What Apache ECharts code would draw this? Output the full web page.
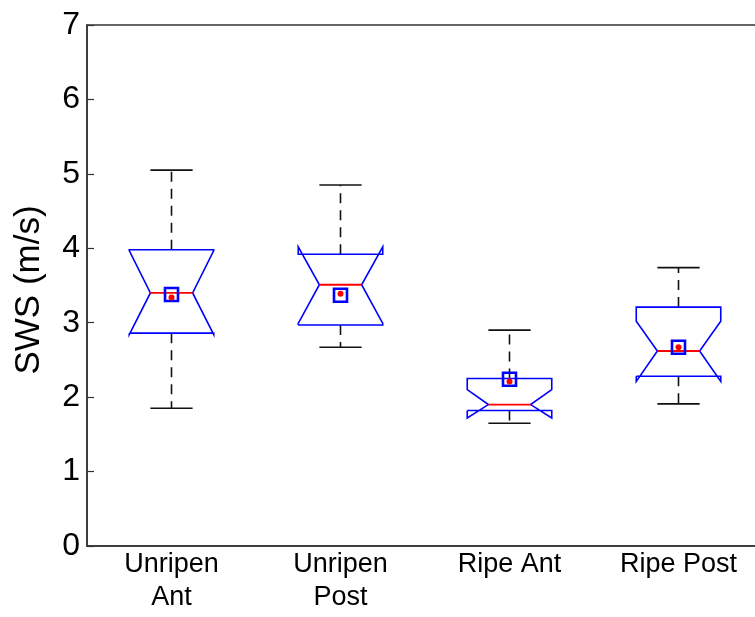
<!DOCTYPE html>
<html>
<head>
<meta charset="utf-8">
<script src="https://cdn.jsdelivr.net/npm/echarts@6/dist/echarts.min.js"></script>
<style>
  html, body { margin: 0; padding: 0; background: #fff; }
  #chart { width: 755px; height: 617px; }
</style>
</head>
<body>
<div id="chart"></div>
<script>
// ---- data ----
const categories = ['Unripen\nAnt', 'Unripen\nPost', 'Ripe Ant', 'Ripe Post'];
const whiskerLow  = [1.85, 2.67, 1.65, 1.91];
const q1          = [2.86, 2.97, 1.82, 2.28];
const notchLow    = [2.84, 2.99, 1.72, 2.21];
const median      = [3.40, 3.51, 1.90, 2.62];
const notchHigh   = [3.97, 4.02, 2.10, 3.02];
const q3          = [3.98, 3.92, 2.25, 3.21];
const whiskerHigh = [5.05, 4.85, 2.90, 3.74];
const squareMarks = [3.38, 3.37, 2.24, 2.67];
const dotMarks    = [3.34, 3.39, 2.21, 2.67];
const yTicks      = [0, 1, 2, 3, 4, 5, 6, 7];
const yTitle      = 'SWS (m/s)';

const FONT = '"Liberation Sans", Arial, Helvetica, sans-serif';

const boxData = categories.map((c, i) => [i, whiskerLow[i], q1[i], notchLow[i], median[i], notchHigh[i], q3[i], whiskerHigh[i]]);

function renderBox(params, api) {
  const i = api.value(0);
  const band = api.size([1, 0])[0];
  const half = band * 0.25;      // box half width (box width 0.5)
  const nh = half * 0.5;         // notch half width
  const capH = half * 0.5;       // whisker cap half width
  const cx = api.coord([i, 0])[0];
  const y = v => api.coord([i, v])[1];
  const wl = api.value(1), b1 = api.value(2), nl = api.value(3), md = api.value(4),
        nu = api.value(5), b3 = api.value(6), wu = api.value(7);
  const L = cx - half, R = cx + half;
  const blue = '#0000ff', red = '#ff0000', black = '#111';
  return {
    type: 'group',
    children: [
      { type: 'line', shape: { x1: cx, y1: y(b3), x2: cx, y2: y(wu) },
        style: { stroke: black, lineWidth: 1.6, lineDash: [10, 7] } },
      { type: 'line', shape: { x1: cx, y1: y(b1), x2: cx, y2: y(wl) },
        style: { stroke: black, lineWidth: 1.6, lineDash: [10, 7] } },
      { type: 'line', shape: { x1: cx - capH, y1: y(wu), x2: cx + capH, y2: y(wu) },
        style: { stroke: black, lineWidth: 1.6 } },
      { type: 'line', shape: { x1: cx - capH, y1: y(wl), x2: cx + capH, y2: y(wl) },
        style: { stroke: black, lineWidth: 1.6 } },
      { type: 'polyline', shape: { points: [
          [L, y(b1)], [L, y(nl)], [cx - nh, y(md)], [L, y(nu)], [L, y(b3)],
          [R, y(b3)], [R, y(nu)], [cx + nh, y(md)], [R, y(nl)], [R, y(b1)], [L, y(b1)]
        ] },
        style: { stroke: blue, lineWidth: 1.6, fill: null } },
      { type: 'line', shape: { x1: cx - nh, y1: y(md), x2: cx + nh, y2: y(md) },
        style: { stroke: red, lineWidth: 1.8 } }
    ]
  };
}

const chart = echarts.init(document.getElementById('chart'), null, { renderer: 'canvas' });
chart.setOption({
  backgroundColor: '#ffffff',
  animation: false,
  textStyle: { fontFamily: FONT },
  grid: {
    left: 87, top: 25, width: 676, height: 521,
    outerBoundsMode: 'none',
    containLabel: false,
    show: true, borderColor: '#333', borderWidth: 1.5, backgroundColor: 'transparent'
  },
  xAxis: {
    type: 'category',
    data: categories,
    boundaryGap: true,
    axisTick: { show: false },
    axisLine: { lineStyle: { color: '#333', width: 1.5 } },
    axisLabel: { fontSize: 27, lineHeight: 33, color: '#000', margin: 2, fontFamily: FONT, interval: 0 },
    splitLine: { show: false }
  },
  yAxis: {
    type: 'value',
    min: yTicks[0], max: yTicks[yTicks.length - 1], interval: 1,
    axisLine: { show: true, lineStyle: { color: '#333', width: 1.5 } },
    axisTick: { show: true, inside: true, length: 7, lineStyle: { color: '#333', width: 1.2 } },
    axisLabel: { fontSize: 32, color: '#000', margin: 7, fontFamily: FONT },
    splitLine: { show: false }
  },
  graphic: [{
    type: 'text',
    x: 29.5, y: 290,
    rotation: Math.PI / 2,
    style: {
      text: yTitle, fill: '#000',
      font: '35px ' + FONT,
      align: 'center', verticalAlign: 'middle',
      textAlign: 'center', textVerticalAlign: 'middle'
    }
  }],
  series: [
    {
      type: 'custom',
      renderItem: renderBox,
      data: boxData,
      encode: { x: 0, y: [1, 2, 3, 4, 5, 6, 7] },
      clip: false,
      z: 2
    },
    {
      type: 'scatter',
      data: squareMarks,
      symbol: 'rect',
      symbolSize: 13,
      itemStyle: { color: 'transparent', borderColor: '#0000ff', borderWidth: 2.6, opacity: 1 },
      z: 3
    },
    {
      type: 'scatter',
      data: dotMarks,
      symbol: 'circle',
      symbolSize: 6,
      itemStyle: { color: '#ff0000', opacity: 1 },
      z: 4
    }
  ]
});
</script>
</body>
</html>
